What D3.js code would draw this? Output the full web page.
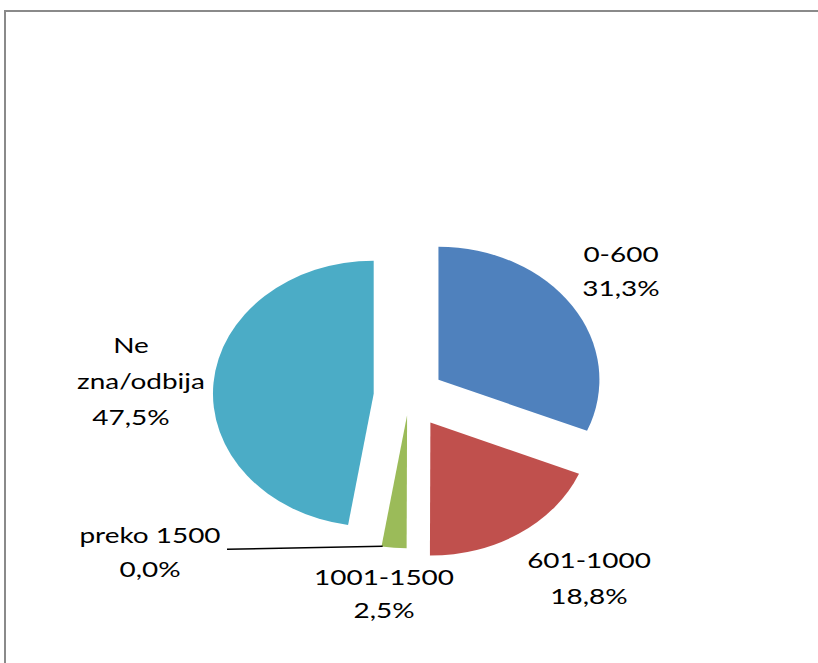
<!DOCTYPE html>
<html lang="hr">
	<head>
		<meta charset="UTF-8">
		<title>Pie Chart</title>
		<style>
			body{margin:0;background:#fff;}
			text{font-family:Lato,"Open Sans",sans-serif;font-size:22px;fill:#000;}
		</style>
	</head>
	<body>
		<svg width="818" height="663"></svg>
		<script src="https://cdn.jsdelivr.net/npm/d3@7"></script>
		<script>
			// podaci
			var categories = ["0-600", "601-1000", "1001-1500", "preko 1500", "Ne\nzna/odbija"];
			var values = [31.3, 18.8, 2.5, 0.0, 47.5];
			var valueLabels = ["31,3%", "18,8%", "2,5%", "0,0%", "47,5%"];
			var colors = ["#4f81bd", "#c0504d", "#9bbb59", "#8064a2", "#4bacc6"];

			// izgled
			var cx = 409, cy = 396, rx = 161, ry = 133;
			var explode = [0.22, 0.24, 0.145, 0.145, 0.22];
			// središte i baseline prvog reda za svaku oznaku
			var labelPos = [[621, 262], [589, 568], [384, 585], [150, 543], [131, 353]];
			var lineGap = [34, 36, 33, 34, 36];

			var svg = d3.select("svg");
			svg.append("rect")
				.attr("x", 5).attr("y", 11)
				.attr("width", 900).attr("height", 800)
				.attr("fill", "none")
				.attr("stroke", "#8a8a8a")
				.attr("stroke-width", 2);

			var pie = d3.pie().sort(null).value(function(d){return d;});
			var arc = d3.arc().innerRadius(0).outerRadius(1);
			var arcs = pie(values);

			function offset(d, i){
				var a = (d.startAngle + d.endAngle) / 2;
				return [cx + rx * explode[i] * Math.sin(a), cy - ry * explode[i] * Math.cos(a)];
			}

			svg.selectAll(".slice")
				.data(arcs)
				.enter()
				.append("path")
				.attr("class", "slice")
				.attr("transform", function(d, i){
					var o = offset(d, i);
					return "translate(" + o[0] + "," + o[1] + ") scale(" + rx + "," + ry + ")";
				})
				.attr("d", arc)
				.attr("fill", function(d, i){return colors[i];});

			// leader line for the empty slice
			arcs.forEach(function(d, i){
				if(values[i] > 0) return;
				var o = offset(d, i);
				var px = o[0] + rx * Math.sin(d.startAngle), py = o[1] - ry * Math.cos(d.startAngle);
				svg.append("line")
					.attr("x1", labelPos[i][0] + 77).attr("y1", py + 3)
					.attr("x2", px + 3).attr("y2", py)
					.attr("stroke", "#000").attr("stroke-width", 1.5);
			});

			var labels = svg.selectAll(".label")
				.data(arcs)
				.enter()
				.append("g")
				.attr("class", "label")
				.attr("transform", function(d, i){
					return "translate(" + labelPos[i][0] + "," + labelPos[i][1] + ")";
				});
			labels.each(function(d, i){
				var lines = categories[i].split("\n").concat([valueLabels[i]]);
				var g = d3.select(this);
				lines.forEach(function(t, j){
					g.append("text")
						.attr("text-anchor", "middle")
						.attr("transform", "translate(" + (t === "zna/odbija" ? 10 : 0) + "," + (j * lineGap[i]) + ") scale(1.27,1)")
						.text(t);
				});
			});
		</script>
	</body>
</html>
